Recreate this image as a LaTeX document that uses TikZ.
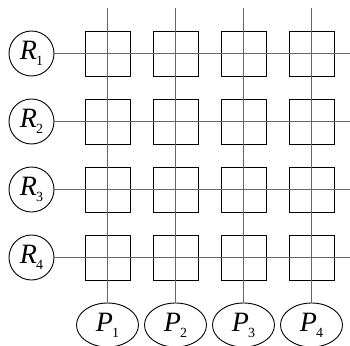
\documentclass[tikz,border=0pt]{standalone}
\usepackage{fontspec}
\setmainfont{Liberation Serif}
\usetikzlibrary{shapes.geometric}
\newcommand{\idx}[2]{{\itshape #1}\kern-1pt\raisebox{-6pt}{\fontsize{14}{14}\selectfont #2}}

\begin{document}
\begin{tikzpicture}[x=1pt,y=-1pt,
  cell/.style={draw,minimum size=45pt,inner sep=0pt,line width=0.9pt},
  rnode/.style={circle,draw,line width=0.9pt,minimum size=45pt,inner sep=0pt,font=\fontsize{28}{28}\selectfont},
  pnode/.style={ellipse,draw,line width=0.9pt,minimum width=62pt,minimum height=44pt,inner sep=0pt,font=\fontsize{28}{28}\selectfont},
  wire/.style={black!60,line width=0.9pt}]
\useasboundingbox (0,0) rectangle (350,345);
\foreach \i in {1,...,4}{
  \pgfmathsetmacro{\px}{107.5+68*(\i-1)}
  \pgfmathsetmacro{\py}{53.5+68*(\i-1)}
  \node[rnode] (r\i) at (31.5,\py) {\idx{R}{\i}};
  \node[pnode] (p\i) at (\px,325) {\idx{P}{\i}};
  \coordinate (t\i) at (\px,8);
  \coordinate (e\i) at (350,\py);
}
\foreach \i in {1,...,4}
  \foreach \j in {1,...,4}{
    \node[cell] (c\i\j) at (p\j |- r\i) {};
  }
\foreach \i in {1,...,4}{
  \draw[wire] (r\i) -- (e\i);
  \draw[wire] (t\i) -- (p\i);
}
\end{tikzpicture}
\end{document}
